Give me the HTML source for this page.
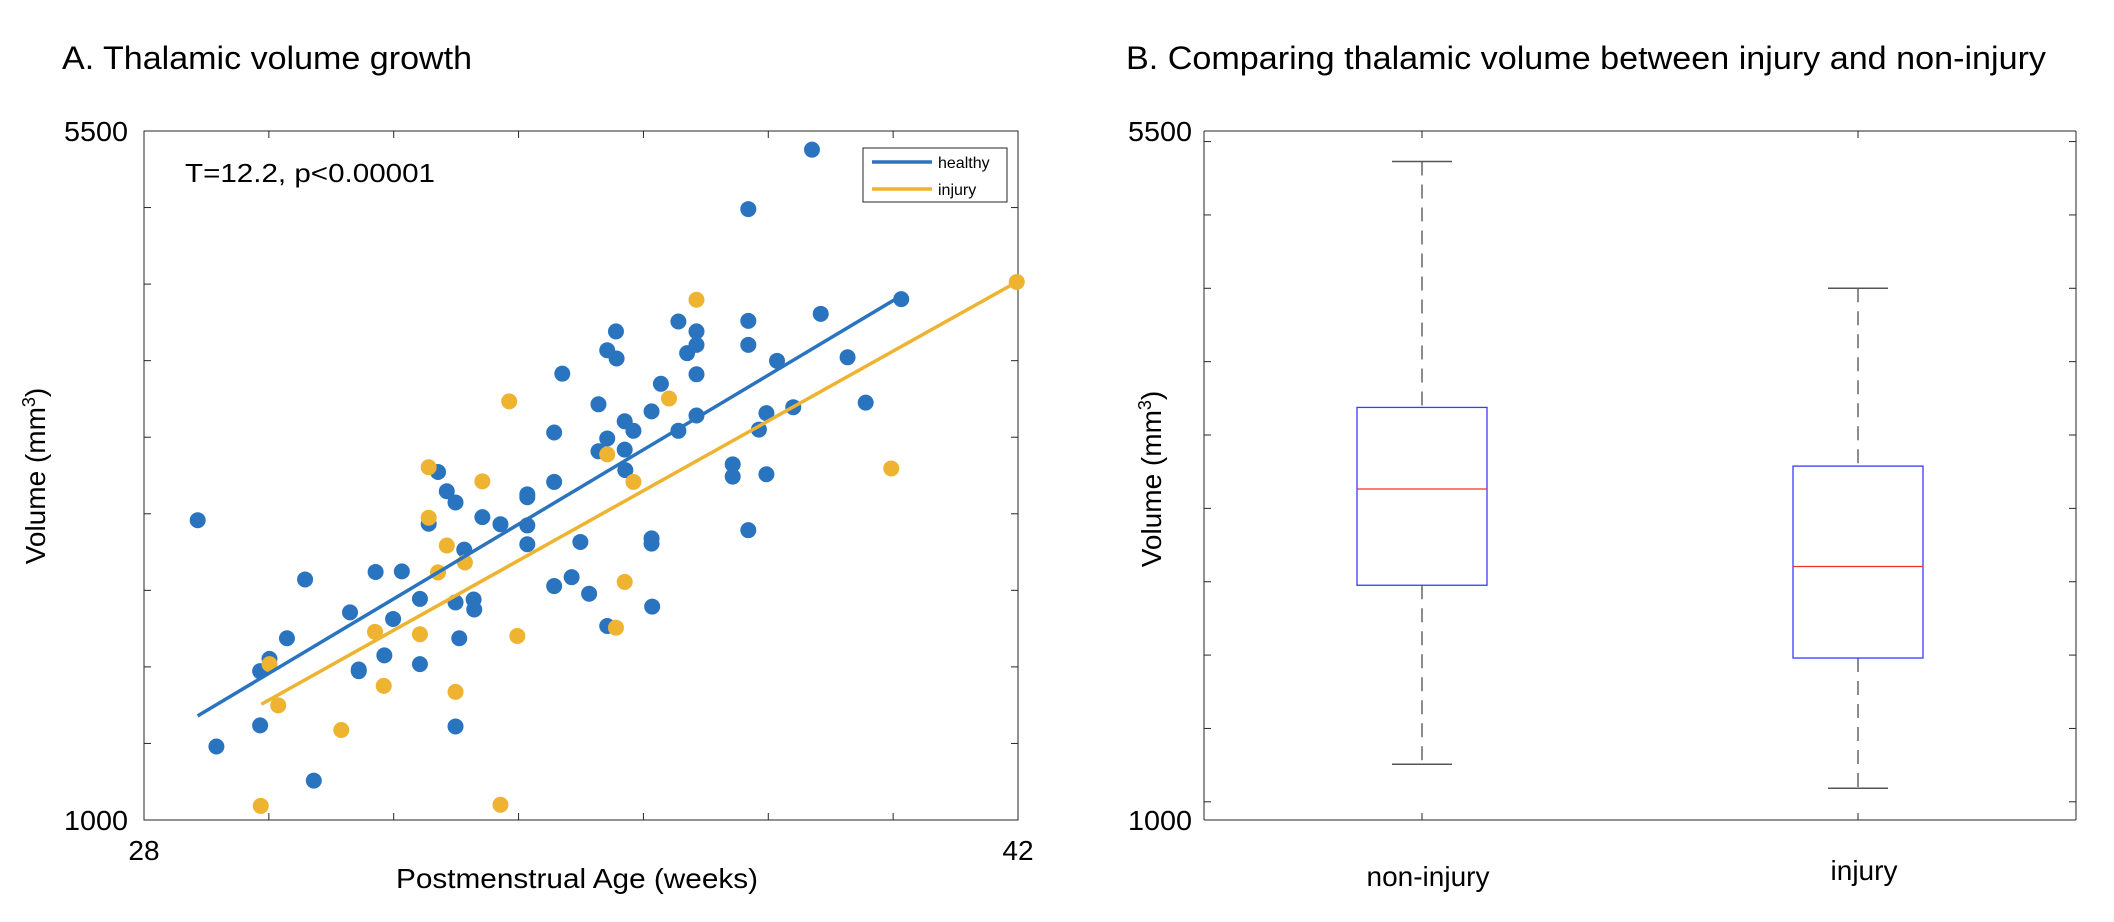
<!DOCTYPE html>
<html><head><meta charset="utf-8"><style>
html,body{margin:0;padding:0;background:#fff;}
svg{display:block;font-family:"Liberation Sans",sans-serif;}
</style></head><body>
<svg id="fig" width="2114" height="922" viewBox="0 0 2114 922" xmlns="http://www.w3.org/2000/svg">
<text x="62" y="69" font-size="32" textLength="410" lengthAdjust="spacingAndGlyphs">A. Thalamic volume growth</text>
<text x="1126" y="69" font-size="32" textLength="920" lengthAdjust="spacingAndGlyphs">B. Comparing thalamic volume between injury and non-injury</text>
<g id="scatter"></g>
<g id="box"></g>
</svg>
<script>
// ---- Panel A data ----
const healthyAge = [28.86,29.16,29.86,29.86,30.01,30.29,30.58,30.72,31.30,31.44,31.44,31.71,31.85,31.99,32.13,32.42,32.42,32.56,32.71,32.85,32.99,32.99,32.99,33.05,33.13,33.28,33.29,33.42,33.71,34.14,34.14,34.14,34.14,34.57,34.57,34.57,34.70,34.85,34.99,35.13,35.28,35.28,35.42,35.42,35.42,35.56,35.57,35.70,35.70,35.71,35.84,36.13,36.13,36.13,36.14,36.28,36.56,36.56,36.70,36.85,36.85,36.85,36.85,37.43,37.43,37.68,37.68,37.68,37.68,37.85,37.97,37.97,38.14,38.40,38.70,38.84,39.27,39.56,40.13];
const healthyVol = [2958,1480,1618,1972,2052,2187,2571,1257,2356,1972,1983,2620,2075,2313,2624,2444,2018,2935,3273,3147,3074,2421,1611,2187,2766,2440,2375,2978,2932,3127,3108,2924,2801,3531,3208,2528,3915,2586,2816,2478,3715,3408,4068,3492,2267,4191,4014,3604,3419,3285,3542,3669,2839,2805,2394,3849,4256,3542,4049,4191,4103,3911,3642,3323,3243,4990,4260,4103,2893,3550,3657,3258,3999,3696,5378,4306,4022,3726,4402];
const injuryAge = [29.87,30.01,30.15,31.16,31.70,31.84,32.42,32.56,32.56,32.71,32.85,32.99,33.14,33.42,33.71,33.85,33.98,35.42,35.56,35.70,35.84,36.41,36.85,39.97,41.98];
const injuryVol = [1092,2018,1749,1588,2229,1876,2213,3304,2974,2617,2793,1837,2682,3212,1100,3734,2202,3388,2256,2555,3208,3753,4398,3296,4514];
const healthyFitAge = [28.86,40.15];
const healthyFitVol = [1680,4429];
const injuryFitAge = [29.88,41.98];
const injuryFitVol = [1756,4514];
const xDomain = [28,42];
const yDomain = [1000,5500];
const xTickLabels = ["28","42"];
const yTickLabels = ["1000","5500"];
// ---- Panel B data ----
const groups = ["non-injury","injury"];
const whiskerHigh = [5364,4500];
const q3 = [3688,3288];
const median = [3132,2604];
const q1 = [2476,1980];
const whiskerLow = [1256,1092];
const boxDomain = [876,5572];
const boxTicks = [1000,1500,2000,2500,3000,3500,4000,4500,5000,5500];

const NS="http://www.w3.org/2000/svg";
function mk(parent,tag,attrs,text){const e=document.createElementNS(NS,tag);for(const k in attrs)e.setAttribute(k,attrs[k]);if(text!==undefined)e.textContent=text;parent.appendChild(e);return e;}

// Panel A
const A=document.getElementById('scatter');
const aL=144,aR=1018,aT=131,aB=820;
const sx=v=>aL+(v-xDomain[0])/(xDomain[1]-xDomain[0])*(aR-aL);
const sy=v=>aB-(v-yDomain[0])/(yDomain[1]-yDomain[0])*(aB-aT);
let fr=mk(A,'rect',{x:aL,y:aT,width:aR-aL,height:aB-aT,fill:'none',stroke:'#262626','stroke-width':1});


for(let w=30;w<42;w+=2){
 mk(A,'line',{x1:sx(w),x2:sx(w),y1:aB,y2:aB-7,stroke:'#262626'});
 mk(A,'line',{x1:sx(w),x2:sx(w),y1:aT,y2:aT+7,stroke:'#262626'});
}
for(let v=1500;v<5500;v+=500){
 mk(A,'line',{x1:aL,x2:aL+7,y1:sy(v),y2:sy(v),stroke:'#262626'});
 mk(A,'line',{x1:aR,x2:aR-7,y1:sy(v),y2:sy(v),stroke:'#262626'});
}
let t;
t=mk(A,'text',{x:sx(xDomain[0]),y:860,'font-size':28,'text-anchor':'middle'},xTickLabels[0]);


t=mk(A,'text',{x:sx(xDomain[1]),y:860,'font-size':28,'text-anchor':'middle'},xTickLabels[1]);


t=mk(A,'text',{x:128,y:sy(yDomain[0])+10,'font-size':28,'text-anchor':'end',textLength:64,lengthAdjust:'spacingAndGlyphs'},yTickLabels[0]);


t=mk(A,'text',{x:128,y:sy(yDomain[1])+10,'font-size':28,'text-anchor':'end',textLength:64,lengthAdjust:'spacingAndGlyphs'},yTickLabels[1]);


t=mk(A,'text',{x:577,y:888,'font-size':28,'text-anchor':'middle',textLength:362,lengthAdjust:'spacingAndGlyphs'},'Postmenstrual Age (weeks)');


t=mk(A,'text',{transform:'translate(45,476) rotate(-90)','font-size':28,'text-anchor':'middle'});
t.innerHTML='Volume (mm<tspan font-size="18" dy="-10">3</tspan><tspan dy="10">)</tspan>';


t=mk(A,'text',{x:185,y:182,'font-size':26,textLength:250,lengthAdjust:'spacingAndGlyphs'},'T=12.2, p<0.00001');


healthyAge.forEach((a,i)=>{const c=mk(A,'circle',{cx:sx(a),cy:sy(healthyVol[i]),r:8,fill:'#2a74bf'});
 
 });
injuryAge.forEach((a,i)=>{const c=mk(A,'circle',{cx:sx(a),cy:sy(injuryVol[i]),r:8,fill:'#edb331'});
 
 });
let ln=mk(A,'line',{x1:sx(healthyFitAge[0]),y1:sy(healthyFitVol[0]),x2:sx(healthyFitAge[1]),y2:sy(healthyFitVol[1]),stroke:'#2a74bf','stroke-width':3.5});


ln=mk(A,'line',{x1:sx(injuryFitAge[0]),y1:sy(injuryFitVol[0]),x2:sx(injuryFitAge[1]),y2:sy(injuryFitVol[1]),stroke:'#edb331','stroke-width':3.5});


const lg=mk(A,'g',{});


mk(lg,'rect',{x:863,y:148,width:144,height:54,fill:'#fff',stroke:'#262626','stroke-width':1});
mk(lg,'line',{x1:872,x2:932,y1:162,y2:162,stroke:'#2a74bf','stroke-width':3.5});
mk(lg,'line',{x1:872,x2:932,y1:189,y2:189,stroke:'#edb331','stroke-width':3.5});
t=mk(lg,'text',{x:938,y:168,'font-size':16},'healthy');


t=mk(lg,'text',{x:938,y:195,'font-size':16},'injury');



// Panel B
const B=document.getElementById('box');
const bL=1204,bR=2076,bT=131,bB=820;
const by=v=>bB-(v-boxDomain[0])/(boxDomain[1]-boxDomain[0])*(bB-bT);
const bx=i=>bL+(i+0.5)/groups.length*(bR-bL);
mk(B,'line',{x1:bL,x2:bR,y1:bT,y2:bT,stroke:'#262626'});
mk(B,'line',{x1:bL,x2:bR,y1:bB,y2:bB,stroke:'#262626'});
mk(B,'line',{x1:bL,x2:bL,y1:bT,y2:bB,stroke:'#262626'});
mk(B,'line',{x1:bR,x2:bR,y1:bT,y2:bB,stroke:'#262626'});
boxTicks.forEach(v=>{mk(B,'line',{x1:bL,x2:bL+7,y1:by(v),y2:by(v),stroke:'#262626'});mk(B,'line',{x1:bR,x2:bR-7,y1:by(v),y2:by(v),stroke:'#262626'});});
t=mk(B,'text',{x:1192,y:bB+10,'font-size':28,'text-anchor':'end',textLength:64,lengthAdjust:'spacingAndGlyphs'},'1000');


t=mk(B,'text',{x:1192,y:bT+10,'font-size':28,'text-anchor':'end',textLength:64,lengthAdjust:'spacingAndGlyphs'},'5500');


t=mk(B,'text',{transform:'translate(1161,479) rotate(-90)','font-size':28,'text-anchor':'middle'});
t.innerHTML='Volume (mm<tspan font-size="18" dy="-10">3</tspan><tspan dy="10">)</tspan>';


groups.forEach((g,i)=>{
 const cx=bx(i);
 mk(B,'line',{x1:cx,x2:cx,y1:bB,y2:bB-7,stroke:'#262626'});
 mk(B,'line',{x1:cx,x2:cx,y1:bT,y2:bT+7,stroke:'#262626'});
 const grp=mk(B,'g',{});
 
 
 mk(grp,'line',{x1:cx,x2:cx,y1:by(whiskerHigh[i]),y2:by(q3[i]),stroke:'#666','stroke-width':1.5,'stroke-dasharray':'14,9'});
 mk(grp,'line',{x1:cx,x2:cx,y1:by(q1[i]),y2:by(whiskerLow[i]),stroke:'#666','stroke-width':1.5,'stroke-dasharray':'14,9'});
 mk(grp,'line',{x1:cx-30,x2:cx+30,y1:by(whiskerHigh[i]),y2:by(whiskerHigh[i]),stroke:'#555','stroke-width':1.5});
 mk(grp,'line',{x1:cx-30,x2:cx+30,y1:by(whiskerLow[i]),y2:by(whiskerLow[i]),stroke:'#555','stroke-width':1.5});
 mk(grp,'rect',{x:cx-65,y:by(q3[i]),width:130,height:by(q1[i])-by(q3[i]),fill:'#fff',stroke:'#3a3aff','stroke-width':1.3});
 mk(grp,'line',{x1:cx-65,x2:cx+65,y1:by(median[i]),y2:by(median[i]),stroke:'#f03030','stroke-width':1.3});
 const lb=mk(B,'text',{x:cx+6,y:i===0?886:880,'font-size':28,'text-anchor':'middle'},g);
 
 
});
</script>
</body></html>
